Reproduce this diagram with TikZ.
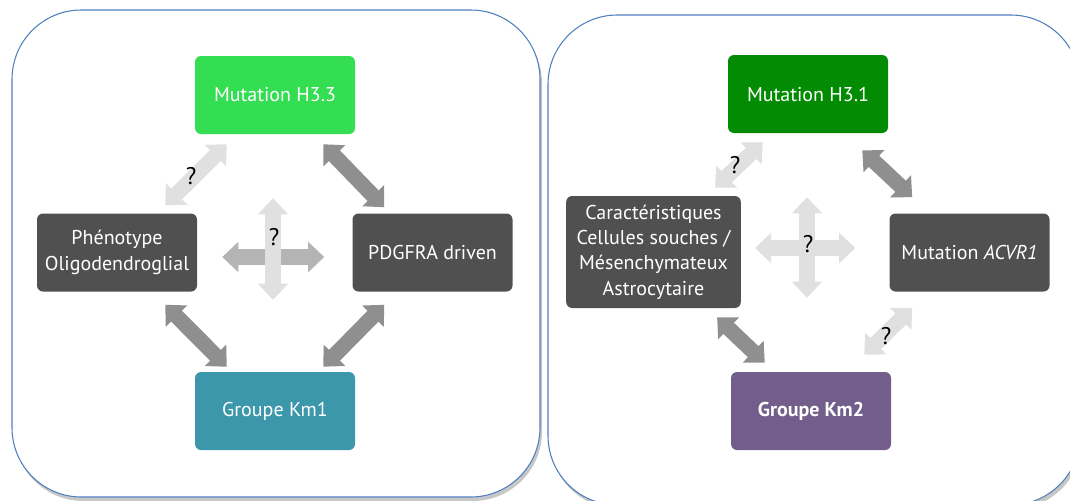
\documentclass[tikz,border=0pt]{standalone}
\usepackage{fontspec}
\setmainfont{PT Sans}
\usetikzlibrary{arrows.meta}

\definecolor{vertclair}{RGB}{52,222,82}
\definecolor{vertfonce}{RGB}{3,140,3}
\definecolor{grisfonce}{RGB}{80,80,80}
\definecolor{bleucanard}{RGB}{60,151,171}
\definecolor{mauve}{RGB}{115,94,139}
\definecolor{flechefonce}{RGB}{143,143,143}
\definecolor{flecheclaire}{RGB}{224,224,224}
\definecolor{flechemoy}{RGB}{180,180,180}
\definecolor{cadre}{RGB}{79,129,189}

\tikzset{
  boite/.style={rectangle, rounded corners=4.5pt, text=white, align=center,
    minimum width=120pt, minimum height=58.5pt,
    font=\fontsize{15}{19}\selectfont},
  fleche/.style={line width=11.5pt,
    {Triangle[width=22pt,length=12pt]}-{Triangle[width=22pt,length=12pt]}},
  panneau/.style={draw=cadre, line width=0.8pt, fill=white, rounded corners=52pt},
  ombre/.style={fill=black!22, rounded corners=52pt},
  question/.style={font=\fontsize{18}{20}\selectfont}
}

\begin{document}
\begin{tikzpicture}[x=0.75pt,y=-0.75pt]

\clip (0,0) rectangle (1070,500);
\fill[white] (0,0) rectangle (1070,500);

% Cadres
\fill[ombre] (14,14) rectangle (542,501);
\draw[panneau] (12,10) rectangle (540,497);
\fill[ombre] (550,19) rectangle (1082,509);
\draw[panneau] (548,15) rectangle (1080,505);

% H3.3
\node[boite, fill=vertclair] (h33) at (275,95) {Mutation H3.3};
\node[boite, fill=grisfonce] (pheno) at (117,252.5) {Phénotype\\Oligodendroglial};
\node[boite, fill=grisfonce] (pdgfra) at (432.5,252.5) {PDGFRA driven};
\node[boite, fill=bleucanard] (km1) at (275,411) {Groupe Km1};

\draw[fleche, flecheclaire] ([shift={(32,10)}]h33.south west) -- ([shift={(-32,-8)}]pheno.north east);
\draw[fleche, flechefonce] ([shift={(-32,10)}]h33.south east) -- ([shift={(32,-6)}]pdgfra.north west);
\draw[fleche, flechefonce] ([shift={(-32,13)}]pheno.south east) -- ([shift={(32,-5)}]km1.north west);
\draw[fleche, flechefonce] ([shift={(32,13)}]pdgfra.south west) -- ([shift={(-32,-5)}]km1.north east);
\draw[fleche, flechemoy] ([shift={(25,4.5)}]pheno.east) -- ([shift={(-28,4.5)}]pdgfra.west);
\draw[fleche, flecheclaire] ([shift={(-2,64)}]h33.south) -- ([shift={(-2,-72)}]km1.north);

\node[question] (q1) at (191,176) {?};
\node[question] (q2) at (274,237) {?};

% H3.1
\node[boite, fill=vertfonce] (h31) at (808,94) {Mutation H3.1};
\node[boite, fill=grisfonce, minimum width=131pt, minimum height=84pt] (carac) at (653.5,252)
  {Caractéristiques\\Cellules souches /\\Mésenchymateux\\Astrocytaire};
\node[boite, fill=grisfonce] (acvr) at (969.5,252.5) {Mutation \textit{ACVR1}};
\node[boite, fill=mauve, font=\fontsize{15}{19}\selectfont\bfseries] (km2) at (811,411) {Groupe Km2};

\draw[fleche, flecheclaire] ([shift={(35,9)}]h31.south west) -- ([shift={(-26,-8)}]carac.north east);
\draw[fleche, flechefonce] ([shift={(-26,17)}]h31.south east) -- ([shift={(23,-16)}]acvr.north west);
\draw[fleche, flechefonce] ([shift={(-24,9)}]carac.south east) -- ([shift={(34,-9)}]km2.north west);
\draw[fleche, flecheclaire] ([shift={(23,16)}]acvr.south west) -- ([shift={(-27,-17)}]km2.north east);
\draw[fleche, flecheclaire] ([shift={(14,-4)}]carac.east) -- ([shift={(-34,-4.5)}]acvr.west);
\draw[fleche, flecheclaire] ([shift={(-1,64)}]h31.south) -- ([shift={(-4,-74)}]km2.north);

\node[question] (q3) at (735,165) {?};
\node[question] (q4) at (808,244) {?};
\node[question] (q5) at (886,336) {?};

\end{tikzpicture}
\end{document}
